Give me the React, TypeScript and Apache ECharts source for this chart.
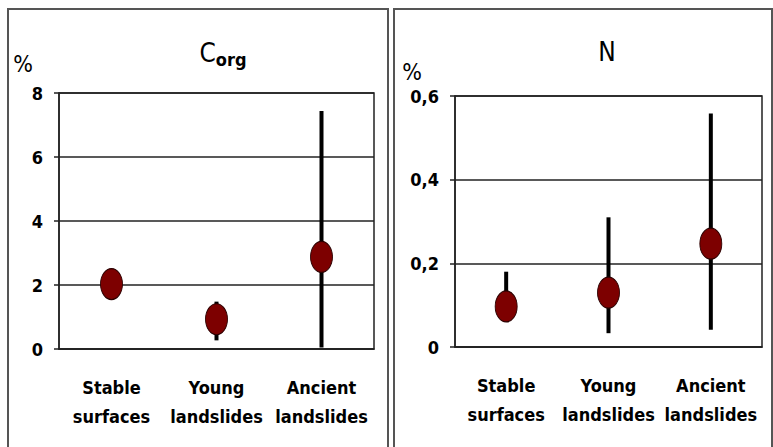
import React, { useEffect, useRef } from "react";
import * as echarts from "echarts";

const categories = ["Stable\nsurfaces", "Young\nlandslides", "Ancient\nlandslides"];

// Corg (%)
const corgMean = [2.03, 0.93, 2.88];
const corgLow = [1.9, 0.27, 0.05];
const corgHigh = [2.2, 1.48, 7.44];
const corgTicks = { min: 0, max: 8, interval: 2 };

// N (%)
const nMean = [0.097, 0.13, 0.247];
const nLow = [0.08, 0.033, 0.041];
const nHigh = [0.18, 0.31, 0.558];
const nTicks = { min: 0, max: 0.6, interval: 0.2 };

const FONT = "'Liberation Sans Narrow', 'Arial Narrow', 'DejaVu Sans Condensed', sans-serif";
const ELLIPSE = "path://M0,50 A50,50 0 1 1 100,50 A50,50 0 1 1 0,50 Z";

const errRender = (params: any, api: any) => {
  const x = api.value(0);
  const p1 = api.coord([x, api.value(1)]);
  const p2 = api.coord([x, api.value(2)]);
  return {
    type: "line",
    shape: { x1: p1[0], y1: p1[1], x2: p2[0], y2: p2[1] },
    style: { stroke: "#000", lineWidth: 4 },
  };
};

const fmt = (v: number) => (v === 0 ? "0" : String(Math.round(v * 10) / 10).replace(".", ","));

export default function App() {
  const ref = useRef<HTMLDivElement>(null);
  useEffect(() => {
    if (!ref.current) return;
    const chart = echarts.init(ref.current, undefined, { renderer: "svg" });
    const yAxisBase = (ticks: any, padRight: number, gap: number) => ({
      type: "value",
      min: ticks.min,
      max: ticks.max,
      interval: ticks.interval,
      name: "%",
      nameLocation: "end",
      nameGap: gap,
      nameTextStyle: {
        fontFamily: FONT,
        fontSize: 23,
        color: "#000",
        align: "right",
        padding: [0, padRight, 0, 0],
      },
      axisLine: { show: true, lineStyle: { color: "#222", width: 1.5 } },
      axisTick: { show: true, length: 5, lineStyle: { color: "#222", width: 1.5 } },
      splitLine: { show: true, lineStyle: { color: "#222", width: 1.5 } },
      axisLabel: {
        margin: 16,
        fontFamily: FONT,
        fontWeight: "bold",
        fontSize: 18,
        color: "#000",
        formatter: fmt,
      },
    });
    const xAxisBase = (gridIndex: number) => ({
      type: "category",
      gridIndex,
      data: categories,
      boundaryGap: true,
      axisLine: { show: true, lineStyle: { color: "#222", width: 1.5 } },
      axisTick: { show: false },
      axisLabel: {
        margin: 24,
        fontFamily: FONT,
        fontWeight: "bold",
        fontSize: 18,
        lineHeight: 29,
        color: "#000",
        interval: 0,
      },
    });
    const titleRich = {
      c: { fontFamily: FONT, fontSize: 26, color: "#000", lineHeight: 30 },
      s: { fontFamily: FONT, fontSize: 18, fontWeight: "bold", color: "#000", lineHeight: 19, verticalAlign: "bottom" },
    };
    chart.setOption({
      animation: false,
      backgroundColor: "#fff",
      grid: [
        { left: 59, top: 93, width: 315, height: 256, show: true, borderColor: "#222", borderWidth: 1.5, backgroundColor: "transparent" },
        { left: 455, top: 96, width: 307, height: 251, show: true, borderColor: "#222", borderWidth: 1.5, backgroundColor: "transparent" },
      ],
      xAxis: [xAxisBase(0), xAxisBase(1)],
      yAxis: [
        { ...yAxisBase(corgTicks, 26, 18), gridIndex: 0 },
        { ...yAxisBase(nTicks, 33, 13), gridIndex: 1 },
      ],
      graphic: [
        { type: "rect", shape: { x: 8, y: 9, width: 380, height: 460 }, style: { fill: "none", stroke: "#555", lineWidth: 2 } },
        { type: "rect", shape: { x: 394, y: 9, width: 378, height: 460 }, style: { fill: "none", stroke: "#555", lineWidth: 2 } },
        {
          type: "text",
          x: 223,
          y: 53,
          style: { text: "{c|C}{s|org}", rich: titleRich, align: "center", verticalAlign: "middle" },
        },
        {
          type: "text",
          x: 607,
          y: 52,
          style: { text: "N", fontFamily: FONT, fontSize: 26, fill: "#000", align: "center", verticalAlign: "middle" },
        },
      ],
      series: [
        {
          type: "custom",
          xAxisIndex: 0,
          yAxisIndex: 0,
          renderItem: errRender,
          encode: { x: 0, y: [1, 2] },
          data: categories.map((_, i) => [i, corgLow[i], corgHigh[i]]),
          z: 2,
        },
        {
          type: "scatter",
          xAxisIndex: 0,
          yAxisIndex: 0,
          symbol: ELLIPSE,
          symbolSize: [22, 31],
          itemStyle: { color: "#7d0000", borderColor: "#2a0000", borderWidth: 1, opacity: 1 },
          data: corgMean,
          z: 3,
        },
        {
          type: "custom",
          xAxisIndex: 1,
          yAxisIndex: 1,
          renderItem: errRender,
          encode: { x: 0, y: [1, 2] },
          data: categories.map((_, i) => [i, nLow[i], nHigh[i]]),
          z: 2,
        },
        {
          type: "scatter",
          xAxisIndex: 1,
          yAxisIndex: 1,
          symbol: ELLIPSE,
          symbolSize: [22, 31],
          itemStyle: { color: "#7d0000", borderColor: "#2a0000", borderWidth: 1, opacity: 1 },
          data: nMean,
          z: 3,
        },
      ],
    });
    return () => chart.dispose();
  }, []);
  return (
    <div
      ref={ref}
      style={{ position: "fixed", left: 0, top: 0, width: 773, height: 447, background: "#fff" }}
    />
  );
}
